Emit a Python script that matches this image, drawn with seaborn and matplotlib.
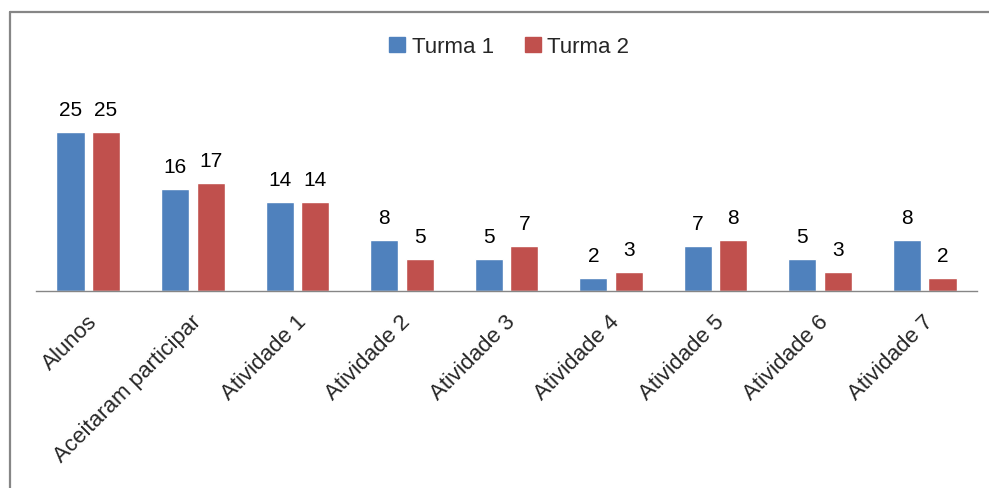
import pandas as pd
import matplotlib
matplotlib.use("Agg")
import matplotlib.pyplot as plt
import matplotlib.transforms as mtransforms
from matplotlib.lines import Line2D
import seaborn as sns

# chart data
categories = ["Alunos", "Aceitaram participar", "Atividade 1", "Atividade 2",
              "Atividade 3", "Atividade 4", "Atividade 5", "Atividade 6", "Atividade 7"]
turma1 = [25, 16, 14, 8, 5, 2, 7, 5, 8]
turma2 = [25, 17, 14, 5, 7, 3, 8, 3, 2]
series_names = ["Turma 1", "Turma 2"]
colors = ["#4F81BD", "#C0504D"]

df = pd.DataFrame({
    "categoria": categories * 2,
    "turma": [series_names[0]] * len(categories) + [series_names[1]] * len(categories),
    "valor": turma1 + turma2,
})

sns.set_style("white")
plt.rcParams["font.family"] = ["Liberation Sans", "DejaVu Sans"]

fig = plt.figure(figsize=(9.89, 4.89), dpi=100)
ax = fig.add_axes([0.0364, 0.4029, 0.9515, 0.3906])

sns.barplot(data=df, x="categoria", y="valor", hue="turma", hue_order=series_names,
            palette=colors, width=0.68, gap=0.21, saturation=1, ax=ax, legend=True)

for cont in ax.containers:
    ax.bar_label(cont, padding=9.5, fontsize=15, color="black")

ax.set_ylim(0, 30)
ax.set_xlim(-0.5, len(categories) - 0.5)
ax.set_xlabel("")
ax.set_ylabel("")
ax.set_yticks([])
for s in ["top", "right", "left"]:
    ax.spines[s].set_visible(False)
ax.spines["bottom"].set_color("#868686")
ax.spines["bottom"].set_linewidth(1)

ax.tick_params(axis="x", length=0, pad=14)
shift = mtransforms.ScaledTranslation(-2 / 100, 0, fig.dpi_scale_trans)
for lab in ax.get_xticklabels():
    lab.set_rotation(45)
    lab.set_rotation_mode("anchor")
    lab.set_ha("right")
    lab.set_va("top")
    lab.set_fontsize(16)
    lab.set_transform(lab.get_transform() + shift)

# legend on top
ax.get_legend().remove()
handles = [plt.Rectangle((0, 0), 1, 1, color=c) for c in colors]
fig.legend(handles, series_names, loc="center", bbox_to_anchor=(0.515, 0.902),
           ncol=2, frameon=False, fontsize=16, handlelength=0.7, handleheight=0.7,
           handletextpad=0.3, columnspacing=1.4)

# chart area border (only left and top visible)
fig.add_artist(Line2D([0.0101, 0.0101], [-0.1, 0.9734], transform=fig.transFigure,
                      color="#868686", lw=1.6))
fig.add_artist(Line2D([0.0101, 1.1], [0.9734, 0.9734], transform=fig.transFigure,
                      color="#868686", lw=1.6))

fig.savefig("out.png", dpi=100)
